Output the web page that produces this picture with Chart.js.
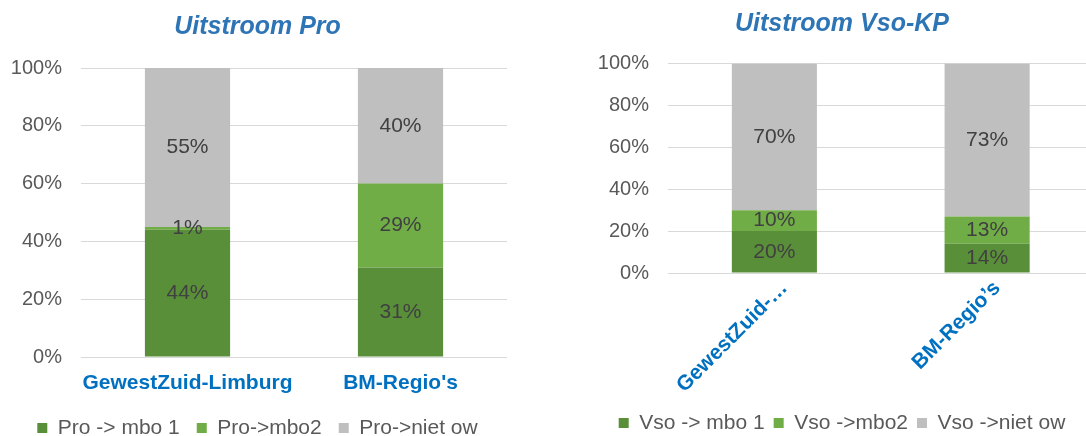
<!DOCTYPE html>
<html>
<head>
<meta charset="utf-8">
<script src="https://cdn.jsdelivr.net/npm/chart.js@4.4.1/dist/chart.umd.min.js"></script>
<style>
  html, body { margin: 0; padding: 0; background: #fff; overflow: hidden; width: 1086px; height: 436px; }
  .box { position: absolute; top: 0; height: 436px; }
  #boxPro { left: 0; width: 530px; }
  #boxVso { left: 543px; width: 598px; }
</style>
</head>
<body>
<div class="box" id="boxPro"><canvas id="chartPro" width="530" height="436"></canvas></div>
<div class="box" id="boxVso"><canvas id="chartVso" width="598" height="436"></canvas></div>
<script>
// --- data (percentages) ---
const proCategories = ['GewestZuid-Limburg', "BM-Regio's"];
const proSeries = ['Pro -> mbo 1', 'Pro->mbo2', 'Pro->niet ow'];
const proMbo1 = [44, 31];
const proMbo2 = [1, 29];
const proNietOw = [55, 40];

const vsoCategories = ['GewestZuid-…', 'BM-Regio’s'];
const vsoSeries = ['Vso -> mbo 1', 'Vso ->mbo2', 'Vso ->niet ow'];
const vsoMbo1 = [20, 14];
const vsoMbo2 = [10, 13];
const vsoNietOw = [70, 73];

const yTickStep = 20;

// --- look ---
const DARK_GREEN = '#5a8f3a';
const LIGHT_GREEN = '#70ad47';
const GREY = '#bfbfbf';
const BLUE = '#0070c0';

Chart.defaults.font.family = '"Liberation Sans", Arial, sans-serif';
Chart.defaults.color = '#595959';

// labels in het midden van elk segment
const segmentLabels = {
  id: 'segmentLabels',
  afterDatasetsDraw(chart) {
    const ctx = chart.ctx;
    ctx.save();
    ctx.font = '21px "Liberation Sans", Arial, sans-serif';
    ctx.fillStyle = '#404040';
    ctx.textAlign = 'center';
    ctx.textBaseline = 'middle';
    chart.data.datasets.forEach((ds, i) => {
      chart.getDatasetMeta(i).data.forEach((bar, j) => {
        ctx.fillText(ds.data[j] + '%', bar.x, (bar.y + bar.base) / 2);
      });
    });
    ctx.restore();
  }
};

function makeChart(id, cfg) {
  const ctx = document.getElementById(id).getContext('2d');
  return new Chart(ctx, {
    type: 'bar',
    data: {
      labels: cfg.categories,
      datasets: [
        { label: cfg.series[0], data: cfg.values[0], backgroundColor: DARK_GREEN },
        { label: cfg.series[1], data: cfg.values[1], backgroundColor: LIGHT_GREEN },
        { label: cfg.series[2], data: cfg.values[2], backgroundColor: GREY }
      ]
    },
    options: {
      responsive: false,
      animation: false,
      devicePixelRatio: 1,
      datasets: { bar: { barPercentage: 0.4, categoryPercentage: 1, borderWidth: 0 } },
      layout: { padding: cfg.padding },
      plugins: {
        title: {
          display: true,
          text: cfg.title,
          color: '#2e75b6',
          font: { size: 25, weight: 'bold', style: 'italic' },
          padding: cfg.titlePadding
        },
        legend: {
          position: 'bottom',
          labels: {
            boxWidth: 10,
            boxHeight: 10,
            padding: cfg.legendPadding,
            color: '#595959',
            font: { size: cfg.legendFont }
          }
        },
        tooltip: { enabled: false }
      },
      scales: {
        x: {
          stacked: true,
          grid: { display: false, drawTicks: false },
          border: { display: false },
          ticks: {
            color: BLUE,
            font: { size: 21, weight: 'bold' },
            padding: cfg.xPadding,
            minRotation: cfg.rotation,
            maxRotation: cfg.rotation,
            labelOffset: cfg.labelOffset,
            autoSkip: false
          },
          afterFit: s => { s.height = cfg.xHeight; }
        },
        y: {
          stacked: true,
          min: 0,
          max: 100,
          grid: { color: '#d9d9d9', lineWidth: 1, drawTicks: false },
          border: { display: false },
          ticks: {
            stepSize: yTickStep,
            padding: 19,
            color: '#595959',
            font: { size: 20 },
            callback: v => v + '%'
          },
          afterFit: s => { s.width = cfg.yWidth; }
        }
      }
    },
    plugins: [segmentLabels]
  });
}

makeChart('chartPro', {
  title: 'Uitstroom Pro',
  categories: proCategories,
  series: proSeries,
  values: [proMbo1, proMbo2, proNietOw],
  padding: { left: 8, right: 23, top: 0, bottom: -12.5 },
  titlePadding: { top: 12, bottom: 26 },
  legendPadding: 17,
  legendFont: 21,
  yWidth: 73,
  xHeight: 43.5,
  xPadding: 14,
  rotation: 0,
  labelOffset: 0
});

makeChart('chartVso', {
  title: 'Uitstroom Vso-KP',
  categories: vsoCategories,
  series: vsoSeries,
  values: [vsoMbo1, vsoMbo2, vsoNietOw],
  padding: { left: 47.5, right: 47.5, top: 0, bottom: -7.5 },
  titlePadding: { top: 9, bottom: 24.5 },
  legendPadding: 9,
  legendFont: 21,
  yWidth: 77.5,
  xHeight: 130.5,
  xPadding: 3,
  rotation: 45,
  labelOffset: 10
});
</script>
</body>
</html>
